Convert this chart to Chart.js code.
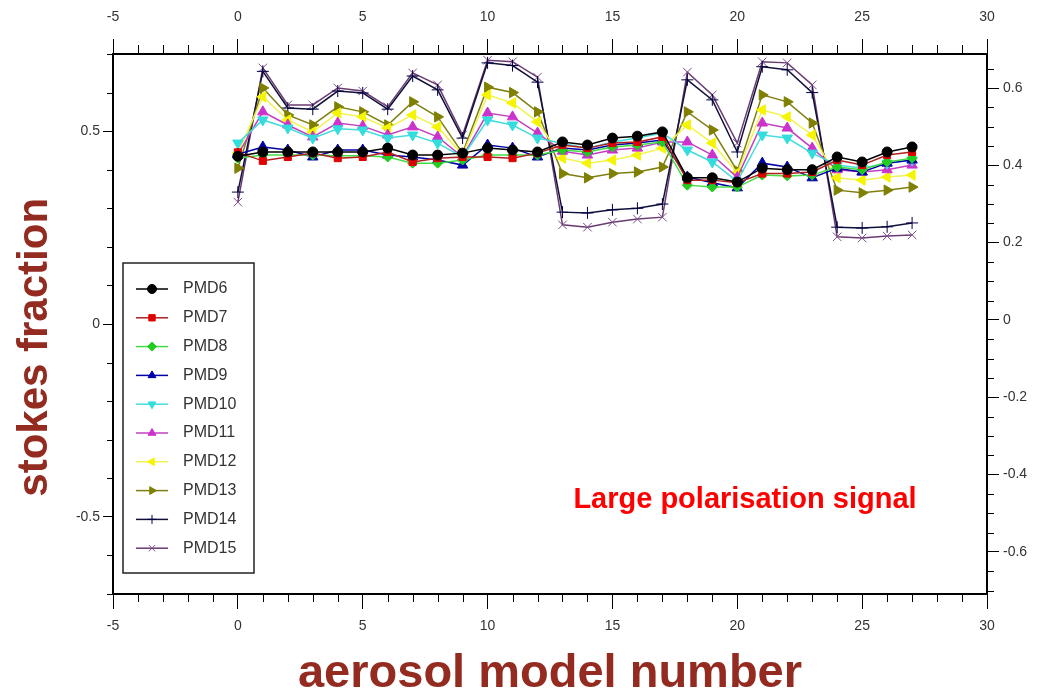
<!DOCTYPE html>
<html>
<head>
<meta charset="utf-8">
<title>stokes fraction vs aerosol model number</title>
<script src="https://cdn.jsdelivr.net/npm/chart.js@4.4.1/dist/chart.umd.min.js"></script>
<style>
  html, body { margin: 0; padding: 0; background: #fff; }
  #wrap { width: 1045px; height: 698px; }
</style>
</head>
<body>
<div id="wrap"><canvas id="canvas-stokes"></canvas></div>
<script>
// aerosol model numbers (x)
const modelNumbers = [0, 1, 2, 3, 4, 5, 6, 7, 8, 9, 10, 11, 12, 13, 14, 15, 16, 17, 18, 19, 20, 21, 22, 23, 24, 25, 26, 27]

// stokes fraction per PMD
const pmd6 = [0.435, 0.446, 0.446, 0.446, 0.446, 0.446, 0.456, 0.438, 0.438, 0.443, 0.456, 0.451, 0.446, 0.472, 0.464, 0.482, 0.487, 0.498, 0.379, 0.379, 0.368, 0.404, 0.400, 0.400, 0.433, 0.420, 0.446, 0.459]
const pmd7 = [0.445, 0.423, 0.433, 0.443, 0.430, 0.433, 0.446, 0.420, 0.430, 0.433, 0.433, 0.430, 0.443, 0.464, 0.456, 0.469, 0.472, 0.485, 0.373, 0.373, 0.366, 0.390, 0.390, 0.394, 0.425, 0.412, 0.438, 0.446]
const pmd8 = [0.430, 0.438, 0.438, 0.438, 0.436, 0.436, 0.433, 0.417, 0.417, 0.425, 0.438, 0.438, 0.438, 0.451, 0.446, 0.459, 0.464, 0.472, 0.360, 0.355, 0.355, 0.386, 0.384, 0.386, 0.407, 0.400, 0.420, 0.430]
const pmd9 = [0.440, 0.459, 0.451, 0.433, 0.451, 0.451, 0.438, 0.433, 0.425, 0.412, 0.464, 0.456, 0.433, 0.456, 0.451, 0.464, 0.469, 0.477, 0.381, 0.366, 0.353, 0.417, 0.407, 0.379, 0.404, 0.394, 0.417, 0.425]
const pmd10 = [0.469, 0.529, 0.508, 0.482, 0.506, 0.503, 0.482, 0.490, 0.469, 0.433, 0.529, 0.516, 0.482, 0.468, 0.456, 0.472, 0.482, 0.495, 0.451, 0.420, 0.370, 0.490, 0.482, 0.443, 0.412, 0.404, 0.417, 0.425]
const pmd11 = [0.440, 0.550, 0.516, 0.485, 0.521, 0.513, 0.490, 0.511, 0.485, 0.433, 0.547, 0.537, 0.495, 0.448, 0.438, 0.451, 0.456, 0.472, 0.472, 0.438, 0.380, 0.521, 0.508, 0.456, 0.400, 0.394, 0.400, 0.412]
const pmd12 = [0.443, 0.589, 0.529, 0.498, 0.547, 0.537, 0.508, 0.542, 0.511, 0.438, 0.594, 0.573, 0.524, 0.430, 0.417, 0.425, 0.438, 0.456, 0.516, 0.469, 0.392, 0.555, 0.537, 0.490, 0.379, 0.373, 0.381, 0.386]
const pmd13 = [0.404, 0.612, 0.542, 0.516, 0.563, 0.550, 0.516, 0.576, 0.537, 0.443, 0.614, 0.600, 0.550, 0.390, 0.379, 0.390, 0.394, 0.407, 0.550, 0.503, 0.397, 0.594, 0.576, 0.521, 0.347, 0.340, 0.347, 0.355]
const pmd14 = [0.342, 0.655, 0.560, 0.557, 0.604, 0.599, 0.557, 0.643, 0.607, 0.482, 0.677, 0.670, 0.627, 0.290, 0.288, 0.296, 0.300, 0.311, 0.633, 0.581, 0.446, 0.667, 0.659, 0.600, 0.251, 0.249, 0.252, 0.262]
const pmd15 = [0.316, 0.664, 0.568, 0.568, 0.612, 0.604, 0.563, 0.651, 0.620, 0.490, 0.684, 0.680, 0.640, 0.257, 0.251, 0.264, 0.272, 0.277, 0.653, 0.594, 0.469, 0.680, 0.677, 0.620, 0.226, 0.223, 0.228, 0.231]

const seriesNames = ['PMD6', 'PMD7', 'PMD8', 'PMD9', 'PMD10', 'PMD11', 'PMD12', 'PMD13', 'PMD14', 'PMD15']
const seriesValues = [pmd6, pmd7, pmd8, pmd9, pmd10, pmd11, pmd12, pmd13, pmd14, pmd15]

// tick labels
const xTickStep = 5
const yLeftTickStep = 0.5
const yRightTickStep = 0.2

const markerColors = ['#000000', '#e00000', '#22cc22', '#0000a8', '#33dddd', '#cc33cc', '#f5f500', '#7f7f00', '#000040', '#7a4c8a']
const lineColors = ['#000000', '#b02020', '#44dd44', '#0000a8', '#44dddd', '#c040c0', '#f2f250', '#7f7f10', '#10103a', '#6a3a72']
const pointStyles = ['circle', 'rect', 'rectRot', 'triangle', 'triangle', 'triangle', 'triangle', 'triangle', 'cross', 'crossRot']
const pointRotations = [0, 0, 0, 0, 180, 0, -90, 90, 0, 0]
const pointRadii = [5, 5, 5, 6, 6, 6, 6, 6, 6, 6]

const tickFont = { family: '"Liberation Sans", Arial, sans-serif', size: 14 }
const titleColor = '#932b20'

// minor ticks are not built into Chart.js, draw them from the scales
const minorTicks = {
  id: 'minorTicks',
  afterDraw(chart) {
    const { ctx } = chart
    const specs = [
      { id: 'x', step: 1, major: xTickStep, len: 8 },
      { id: 'x2', step: 1, major: xTickStep, len: 9 },
      { id: 'y', step: 0.1, major: yLeftTickStep, len: 6 },
      { id: 'y2', step: 0.05, major: yRightTickStep, len: 7 },
    ]
    ctx.save()
    ctx.strokeStyle = '#000'
    ctx.lineWidth = 1
    specs.forEach(({ id, step, major, len }) => {
      const s = chart.scales[id]
      const k0 = Math.ceil(s.min / step - 1e-6)
      const k1 = Math.floor(s.max / step + 1e-6)
      for (let k = k0; k <= k1; k++) {
        const v = k * step
        const r = v / major
        if (Math.abs(r - Math.round(r)) < 1e-6) continue
        const p = Math.round(s.getPixelForValue(v)) + 0.5
        ctx.beginPath()
        if (id === 'x') { ctx.moveTo(p, s.top); ctx.lineTo(p, s.top + len) }
        if (id === 'x2') { ctx.moveTo(p, s.bottom); ctx.lineTo(p, s.bottom - len) }
        if (id === 'y') { ctx.moveTo(s.right - len, p); ctx.lineTo(s.right, p) }
        if (id === 'y2') { ctx.moveTo(s.left, p); ctx.lineTo(s.left + len, p) }
        ctx.stroke()
      }
    })
    ctx.restore()
  },
}

// boxed legend inside the plot, lower left
const insideLegend = {
  id: 'insideLegend',
  afterDatasetsDraw(chart) {
    const { ctx } = chart
    const box = { left: 123, top: 263, width: 131, height: 310 }
    ctx.save()
    ctx.fillStyle = '#fff'
    ctx.fillRect(box.left, box.top, box.width, box.height)
    ctx.strokeStyle = '#222'
    ctx.lineWidth = 1.5
    ctx.strokeRect(box.left, box.top, box.width, box.height)
    chart.data.datasets.forEach((ds, i) => {
      const y = 289 + i * 28.8
      ctx.strokeStyle = ds.borderColor
      ctx.lineWidth = 1.5
      ctx.beginPath()
      ctx.moveTo(136, y)
      ctx.lineTo(168, y)
      ctx.stroke()
      ctx.fillStyle = ds.pointBackgroundColor
      ctx.strokeStyle = ds.pointBorderColor
      ctx.lineWidth = 1
      Chart.helpers.drawPoint(ctx, {
        pointStyle: ds.pointStyle,
        rotation: ds.pointRotation,
        radius: 4.5,
        borderWidth: 1,
      }, 152, y)
      ctx.fillStyle = '#333'
      ctx.font = '16px "Liberation Sans", Arial, sans-serif'
      ctx.textAlign = 'left'
      ctx.textBaseline = 'middle'
      ctx.fillText(ds.label, 183, y)
    })
    ctx.restore()
  },
}

const note = {
  id: 'note',
  afterDatasetsDraw(chart) {
    const { ctx } = chart
    ctx.save()
    ctx.fillStyle = '#ff0000'
    ctx.font = 'bold 29px "Liberation Sans", Arial, sans-serif'
    ctx.textAlign = 'center'
    ctx.textBaseline = 'middle'
    ctx.fillText('Large polarisation signal', 745, 500)
    ctx.restore()
  },
}

const datasets = seriesNames.map((name, i) => ({
  label: name,
  data: modelNumbers.map((m, j) => ({ x: m, y: seriesValues[i][j] })),
  borderColor: lineColors[i],
  borderWidth: 1.5,
  pointStyle: pointStyles[i],
  pointRotation: pointRotations[i],
  pointRadius: pointRadii[i],
  pointBackgroundColor: markerColors[i],
  pointBorderColor: markerColors[i],
  pointBorderWidth: 1,
  tension: 0,
  fill: false,
}))

const axisBorder = { display: true, color: '#000', width: 2 }

new Chart(document.getElementById('canvas-stokes').getContext('2d'), {
  type: 'line',
  data: { datasets },
  options: {
    responsive: true,
    maintainAspectRatio: false,
    animation: false,
    layout: { padding: 0 },
    plugins: {
      legend: { display: false },
      tooltip: { enabled: false },
    },
    scales: {
      x: {
        type: 'linear',
        position: 'bottom',
        min: -5,
        max: 30,
        afterFit: (s) => { s.height = 104 },
        ticks: { stepSize: xTickStep, font: tickFont, color: '#333', padding: 9, maxRotation: 0 },
        grid: { drawOnChartArea: false, tickLength: 15, tickColor: '#000' },
        border: axisBorder,
        title: {
          display: true,
          text: 'aerosol model number',
          color: titleColor,
          font: { family: '"Liberation Sans", Arial, sans-serif', size: 47, weight: 'bold', lineHeight: 1 },
          padding: { top: 0, bottom: 0 },
        },
      },
      x2: {
        type: 'linear',
        position: 'top',
        min: -5,
        max: 30,
        afterFit: (s) => { s.height = 54 },
        ticks: { stepSize: xTickStep, font: tickFont, color: '#333', padding: 13, maxRotation: 0 },
        grid: { drawOnChartArea: false, tickLength: 15, tickColor: '#000' },
        border: axisBorder,
      },
      y: {
        type: 'linear',
        position: 'left',
        min: -0.7,
        max: 0.7,
        afterFit: (s) => { s.width = 113 },
        ticks: { stepSize: yLeftTickStep, includeBounds: false, font: tickFont, color: '#333', padding: 3 },
        grid: { drawOnChartArea: false, tickLength: 10, tickColor: '#000' },
        border: axisBorder,
        title: {
          display: true,
          text: 'stokes fraction    ',
          color: titleColor,
          font: { family: '"Liberation Sans", Arial, sans-serif', size: 42, weight: 'bold', lineHeight: 1 },
          padding: { top: 14, bottom: 0 },
        },
      },
      y2: {
        type: 'linear',
        position: 'right',
        min: -0.709,
        max: 0.688,
        afterFit: (s) => { s.width = 58 },
        ticks: { stepSize: yRightTickStep, includeBounds: false, font: tickFont, color: '#333', padding: 4 },
        grid: { drawOnChartArea: false, tickLength: 12, tickColor: '#000' },
        border: axisBorder,
      },
    },
  },
  plugins: [minorTicks, insideLegend, note],
})
</script>
</body>
</html>
